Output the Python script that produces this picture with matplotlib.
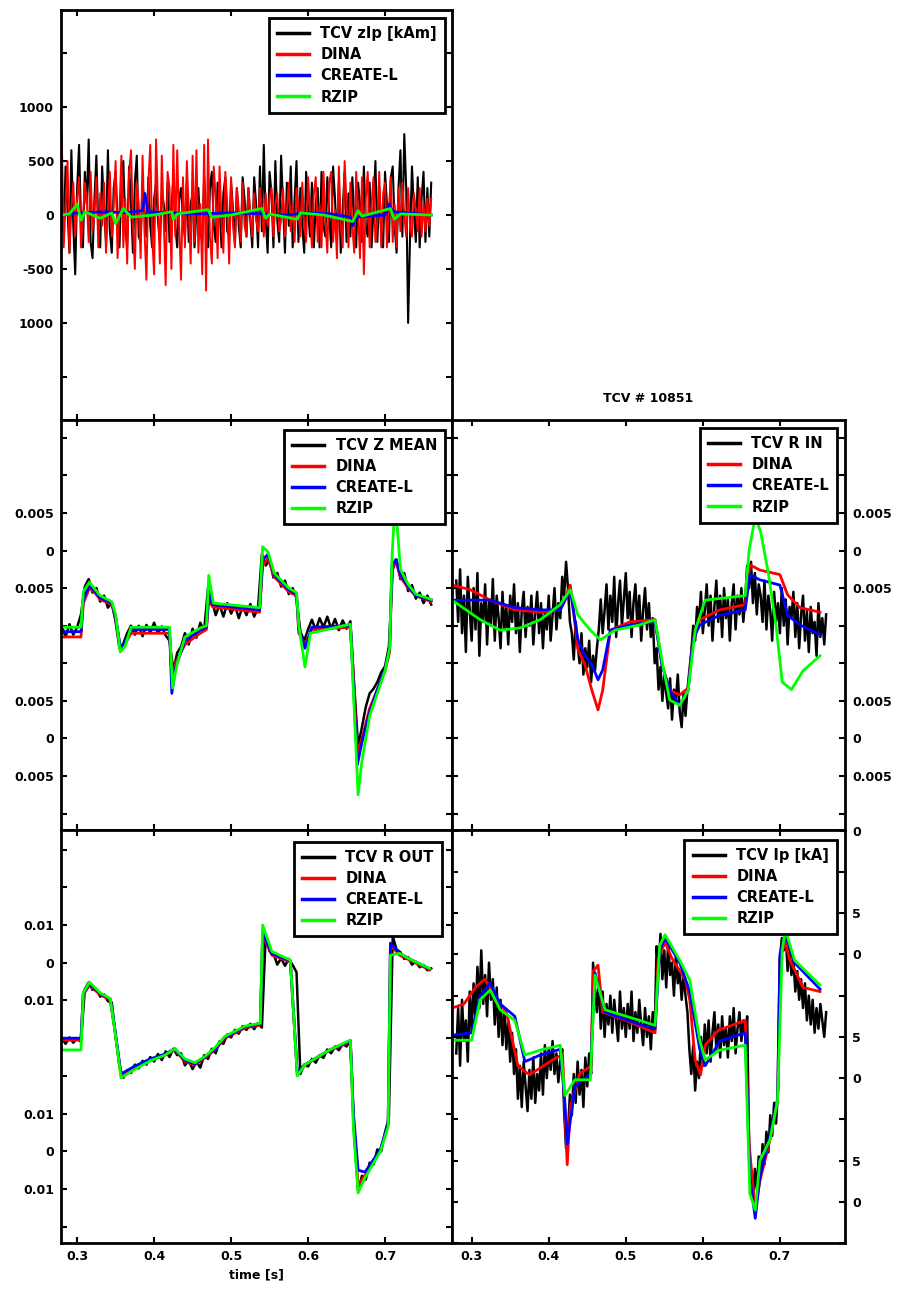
import numpy as np
import matplotlib
matplotlib.use("Agg")
import matplotlib.pyplot as plt
from matplotlib.ticker import FixedLocator, FixedFormatter

# measured TCV signals: 5 ms and 2.5 ms sampling
t_tcv = np.linspace(0.28, 0.76, 97)
t_tcv_fast = np.linspace(0.28, 0.76, 193)

# --- zIp [kAm] ---
tcv_zip = [300, -150, 450, 50, -350, 600, -100, -550, 250, 650,
           -50, -300, 400, 100, 700, -250, -400, 150, 550, -100,
           -300, 450, 50, -250, 600, -150, -350, 250, 400, -50,
           -300, 350, 500, -100, -300, 450, 100, -350, 300, 550,
           -200, -250, 300, 50, -200, 350, -100, -300, 150, 300,
           -50, -250, 200, 100, -150, 300, -250, 50, 350, -100,
           -300, 150, 250, -50, -200, 300, -250, 100, 200, -300,
           50, 250, -150, -250, 350, 0, -300, 250, 400, -100,
           -250, 300, 100, -300, 200, 350, -150, -200, 300, 50,
           -250, 250, -100, -300, 350, 150, -200, 250, -50, -300,
           350, 100, -300, 450, -150, 650, -50, -350, 400, 200,
           -300, 500, -50, -250, 550, 100, -350, 300, -100, 450,
           -300, 150, 500, -250, 250, -100, -350, 400, 50, -200,
           300, -300, 100, 250, -300, 400, -100, -200, 350, 0,
           -300, 450, 150, -250, 300, -350, 50, 400, -250, 200,
           -200, 350, -50, -300, 300, 100, -250, 450, -100, -200,
           300, -300, 50, 500, -250, 250, -150, -300, 400, 100,
           -250, 350, 450, -100, -350, 250, 600, -200, 750, 250,
           -1000, -200, 450, 50, -250, 350, -300, 150, 400, -250,
           250, -200, 300]
dina_zip = [750, -300, 100, 500, -350, 50, 300, -200, 150, 350,
            -300, -50, 300, 150, -250, 400, -150, 0, 350, -300,
            200, -100, 300, -350, 50, 400, -200, 100, 500, -400,
            50, 550, -300, 150, -450, 400, 600, -100, -500, 300,
            100, -400, 550, -150, -600, 300, 650, -200, -550, 700,
            100, -450, 550, -50, -650, 400, 250, -500, 650, -200,
            600, -100, -600, 350, -300, 500, 50, -450, 550, -250,
            600, -350, 100, -550, 650, -700, 700, -200, -450, 450,
            150, -400, 450, -50, -350, 400, 100, -450, 350, -100,
            -300, 250, 50, -250, 300, -100, -200, 250, 0, -200,
            200, -50, -150, 250, 50, -200, 200, -100, 150, 250,
            -200, 100, 200, -150, -50, 250, -200, 50, 300, -150,
            100, -250, 250, 50, -200, 300, -100, -250, 350, 50,
            -300, 200, 350, -250, 100, -300, 400, -50, -350, 300,
            400, -250, 50, -400, 450, -100, -300, 500, 100, -300,
            300, -100, -350, 400, 50, -400, 350, -550, 150, 400,
            -300, 100, 350, -250, -50, 400, -300, 200, 300, -300,
            50, 350, -250, 100, -300, 250, -150, 300, 0, -200,
            250, -100, -200, 200, 50, -150, 250, -200, 100, -150,
            150, -100, 150]
create_zip_t = [0.279, 0.30, 0.34, 0.36, 0.385, 0.388, 0.392, 0.42, 0.46, 0.50,
                0.54, 0.57, 0.60, 0.63, 0.655, 0.658, 0.662, 0.70, 0.705, 0.71,
                0.73, 0.76]
create_zip = [0, 20, 30, 20, 40, 200, 30, 20, 10, 20,
              10, 0, 20, 10, -20, -100, -20, 0, 100, 30,
              20, 0]
rzip_zip_t = [0.279, 0.29, 0.30, 0.305, 0.31, 0.33, 0.345, 0.35, 0.36, 0.37,
              0.40, 0.423, 0.425, 0.43, 0.47, 0.475, 0.50, 0.54, 0.545, 0.55,
              0.586, 0.59, 0.62, 0.658, 0.665, 0.67, 0.707, 0.712, 0.72, 0.76]
rzip_zip = [0, 10, 100, -50, 30, -30, 20, -80, 60, -20,
            0, 30, -40, 10, 50, -20, 0, 60, -30, 10,
            -40, 20, 0, -60, 40, -10, 60, -40, 10, 0]

# --- Z mean [mm] ---
tcv_zmean = [-10.0, -11.5, -9.8, -11.2, -10.2, -8.5, -4.8, -3.8, -5.6, -5.0,
             -6.8, -6.0, -7.6, -6.9, -9.5, -13.0, -12.4, -11.0, -10.0, -11.2,
             -10.0, -11.4, -9.9, -10.9, -9.6, -11.0, -10.1, -11.3, -12.0, -16.0,
             -13.6, -12.8, -11.0, -12.5, -10.4, -11.6, -9.6, -10.7, -5.0, -6.6,
             -8.6, -7.2, -8.8, -7.0, -8.4, -7.3, -9.0, -7.4, -8.6, -7.1,
             -8.8, -7.6, -0.5, -2.0, -1.2, -3.6, -3.0, -4.8, -4.0, -5.8,
             -5.0, -6.4, -10.8, -12.0, -10.5, -9.2, -10.6, -9.0, -10.2, -8.8,
             -10.4, -9.1, -10.6, -9.3, -10.4, -9.4, -18.0, -26.0, -23.5, -20.8,
             -19.0, -18.4, -17.5, -16.2, -15.4, -12.8, -2.5, -1.2, -3.8, -3.0,
             -5.4, -4.6, -6.4, -5.6, -7.0, -6.0, -7.2]
dina_zmean_t = [0.279, 0.305, 0.308, 0.316, 0.322, 0.33, 0.345, 0.35, 0.356, 0.362,
                0.37, 0.42, 0.423, 0.428, 0.44, 0.46, 0.468, 0.471, 0.476, 0.537,
                0.541, 0.548, 0.556, 0.575, 0.585, 0.588, 0.596, 0.605, 0.655, 0.659,
                0.664, 0.67, 0.68, 0.69, 0.70, 0.706, 0.709, 0.714, 0.72, 0.73,
                0.74, 0.76]
dina_zmean = [-11.5, -11.5, -7.0, -5.0, -5.5, -6.5, -7.2, -9.0, -13.0, -12.5,
              -11.0, -11.0, -16.5, -15.0, -12.5, -11.0, -10.5, -6.5, -7.5, -8.2,
              -2.0, -1.0, -3.5, -5.5, -6.0, -11.0, -12.5, -10.5, -10.2, -17.0,
              -27.0, -25.0, -21.0, -18.5, -16.0, -13.5, -2.5, -1.5, -3.5, -5.0,
              -6.0, -6.8]
create_zmean_t = dina_zmean_t
create_zmean = [-10.8, -10.8, -6.5, -4.6, -5.3, -6.3, -7.0, -8.8, -12.8, -12.3,
                -10.5, -10.5, -19.0, -15.5, -12.0, -10.6, -10.2, -5.8, -7.2, -7.9,
                -1.2, -0.5, -3.2, -5.2, -5.8, -10.5, -13.0, -10.2, -10.0, -18.0,
                -28.5, -25.5, -21.5, -18.5, -15.8, -13.0, -2.0, -1.2, -3.2, -4.8,
                -6.0, -6.6]
rzip_zmean_t = [0.279, 0.305, 0.308, 0.316, 0.322, 0.33, 0.345, 0.35, 0.356, 0.362,
                0.37, 0.42, 0.424, 0.43, 0.44, 0.46, 0.468, 0.471, 0.477, 0.537,
                0.541, 0.548, 0.556, 0.575, 0.585, 0.588, 0.596, 0.603, 0.655, 0.659,
                0.665, 0.67, 0.68, 0.69, 0.70, 0.706, 0.709, 0.712, 0.716, 0.72,
                0.73, 0.74, 0.76]
rzip_zmean = [-10.2, -10.2, -5.5, -4.2, -5.0, -6.0, -6.8, -8.5, -13.5, -12.8,
              -10.2, -10.2, -18.3, -15.0, -11.5, -10.3, -10.0, -3.3, -7.0, -7.6,
              0.5, -0.2, -3.0, -5.0, -5.6, -10.0, -15.5, -11.0, -9.8, -19.0,
              -32.5, -28.0, -22.0, -19.0, -16.0, -13.0, -1.0, 4.5, 3.0, -2.5,
              -4.5, -5.8, -6.5]

# --- R in [mm] ---
tcv_rin = [-4.0, -9.5, -2.5, -11.0, -6.0, -13.5, -3.5, -8.0, -12.0, -5.0,
           -10.5, -3.0, -14.0, -7.0, -9.5, -4.5, -12.5, -6.5, -10.0, -3.8,
           -12.0, -6.0, -9.0, -13.0, -5.5, -10.5, -7.5, -12.5, -6.0, -9.5,
           -4.5, -11.0, -7.0, -13.5, -8.0, -5.5, -11.5, -7.5, -10.0, -6.0,
           -12.5, -8.5, -5.5, -11.0, -7.0, -13.0, -8.0, -10.5, -6.0, -12.0,
           -8.5, -5.0, -10.5, -7.0, -9.0, -3.5, -6.0, -1.5, -5.0, -9.5,
           -11.0, -14.5, -9.5, -12.5, -15.0, -11.0, -16.5, -13.0, -15.5, -12.0,
           -17.5, -14.0, -16.0, -13.0, -10.5, -6.5, -11.0, -8.0, -4.5, -10.5,
           -6.0, -9.5, -3.5, -11.5, -7.0, -4.0, -10.0, -6.5, -3.0, -9.0,
           -5.5, -11.5, -7.0, -4.5, -10.0, -6.0, -12.0, -8.0, -5.0, -10.5,
           -7.0, -11.5, -9.0, -15.0, -13.0, -18.5, -15.5, -20.0, -16.5, -19.0,
           -21.0, -17.0, -22.5, -18.5, -20.0, -16.5, -21.5, -23.5, -19.0, -22.0,
           -18.5, -16.0, -13.5, -10.0, -12.0, -7.5, -9.5, -5.5, -11.0, -8.0,
           -4.5, -10.0, -6.0, -12.0, -7.5, -4.0, -9.5, -6.0, -11.5, -5.0,
           -9.0, -6.5, -12.0, -7.0, -4.5, -10.5, -6.0, -8.5, -5.0, -9.5,
           -6.5, -2.0, -5.0, -1.5, -7.0, -3.0, -8.5, -4.5, -6.0, -9.5,
           -4.0, -10.5, -6.0, -8.0, -12.0, -5.5, -9.5, -7.0, -11.0, -5.0,
           -10.0, -6.5, -12.5, -7.5, -9.0, -5.5, -11.5, -7.0, -13.0, -8.5,
           -6.0, -12.0, -8.0, -13.5, -7.5, -11.0, -9.5, -14.0, -7.0, -11.5,
           -9.0, -12.5, -8.5]
dina_rin_t = [0.2746, 0.298, 0.324, 0.356, 0.389, 0.415, 0.428, 0.438, 0.447, 0.456,
              0.464, 0.470, 0.480, 0.505, 0.538, 0.547, 0.557, 0.570, 0.581, 0.587,
              0.596, 0.622, 0.655, 0.661, 0.674, 0.700, 0.710, 0.726, 0.752]
dina_rin = [-4.6, -5.2, -6.6, -7.9, -8.2, -7.9, -4.6, -13.2, -15.2, -18.6,
            -21.2, -18.6, -10.6, -9.5, -9.2, -15.2, -18.6, -19.2, -18.3, -11.9,
            -9.2, -7.9, -7.2, -1.9, -2.6, -3.2, -5.9, -7.6, -8.2]
create_rin_t = dina_rin_t
create_rin = [-6.6, -6.6, -6.6, -7.6, -7.9, -7.9, -5.2, -11.9, -14.0, -15.2,
              -17.2, -15.9, -10.6, -9.9, -9.5, -15.2, -18.6, -20.6, -18.6, -11.9,
              -9.9, -8.6, -7.9, -3.2, -3.9, -4.6, -8.6, -9.9, -11.2]
rzip_rin_t = [0.2746, 0.311, 0.337, 0.363, 0.389, 0.415, 0.428, 0.438, 0.454, 0.467,
              0.486, 0.518, 0.538, 0.548, 0.557, 0.570, 0.581, 0.590, 0.603, 0.655,
              0.660, 0.668, 0.675, 0.685, 0.695, 0.703, 0.715, 0.730, 0.752]
rzip_rin = [-6.6, -9.2, -10.6, -10.3, -9.2, -7.2, -5.2, -8.6, -10.6, -11.9,
            -10.6, -9.9, -9.2, -15.2, -19.9, -20.6, -18.6, -10.6, -6.6, -6.0,
            0.0, 4.5, 2.5, -3.0, -10.0, -17.5, -18.5, -16.0, -14.0]

# --- R out [mm] ---
tcv_rout = [-20.0, -21.5, -19.8, -21.2, -20.0, -21.0, -7.0, -5.2, -7.2, -7.0,
            -9.0, -8.4, -10.2, -10.5, -19.5, -27.5, -30.5, -28.5, -29.2, -27.0,
            -28.0, -26.0, -27.0, -25.0, -26.2, -24.2, -25.8, -23.5, -25.0, -22.8,
            -24.5, -24.0, -27.2, -26.0, -28.2, -26.2, -27.8, -24.5, -25.5, -22.8,
            -24.0, -20.8, -21.5, -19.0, -19.8, -17.8, -18.8, -16.8, -17.8, -16.2,
            -17.6, -16.0, -17.2, 7.5, 3.0, 2.5, -0.5, 1.2, -0.8, 1.0,
            -0.6, -2.5, -29.5, -27.0, -27.5, -25.5, -26.5, -24.5, -25.2, -23.0,
            -24.0, -22.2, -23.2, -21.5, -22.2, -20.6, -46.0, -60.5, -56.5, -57.5,
            -53.0, -53.5, -49.5, -50.0, -45.0, -41.0, 7.0, 3.5, 2.8, 1.0,
            1.5, -0.5, 0.3, -1.2, -0.6, -2.0, -1.5]
dina_rout_t = [0.279, 0.305, 0.308, 0.316, 0.330, 0.343, 0.349, 0.357, 0.373, 0.395,
               0.414, 0.427, 0.440, 0.453, 0.466, 0.479, 0.492, 0.518, 0.538, 0.541,
               0.553, 0.577, 0.586, 0.596, 0.629, 0.655, 0.659, 0.665, 0.674, 0.694,
               0.704, 0.707, 0.719, 0.732, 0.758]
dina_rout = [-20.5, -20.5, -8.5, -6.0, -8.5, -9.9, -17.9, -29.8, -28.0, -25.8,
             -24.5, -23.1, -26.2, -27.1, -25.2, -23.1, -20.0, -17.3, -16.5, 7.3,
             2.0, 0.2, -29.8, -27.1, -23.1, -21.0, -42.0, -59.0, -56.3, -49.7,
             -43.0, 4.7, 2.0, 0.7, -1.9]
create_rout_t = dina_rout_t
create_rout = [-20.0, -20.0, -8.0, -5.6, -8.2, -9.6, -17.5, -29.5, -27.6, -25.5,
               -24.2, -22.8, -25.9, -26.8, -25.0, -22.8, -19.8, -17.0, -16.2, 8.0,
               2.4, 0.5, -29.0, -27.0, -23.0, -20.8, -40.0, -55.0, -55.5, -49.5,
               -42.5, 5.2, 2.5, 1.0, -1.6]
rzip_rout_t = dina_rout_t
rzip_rout = [-23.1, -23.1, -8.0, -5.1, -8.0, -9.5, -18.0, -30.5, -28.5, -26.0,
             -24.5, -22.8, -25.5, -26.5, -24.8, -22.5, -19.5, -16.8, -16.0, 10.0,
             3.0, 0.7, -30.0, -27.0, -23.0, -20.5, -44.0, -61.0, -57.0, -50.0,
             -43.5, 2.0, 2.5, 1.0, -1.5]

# --- Ip [kA], offset ---
tcv_ip = [3.0, 8.5, 1.5, 9.5, 4.5, 7.0, 2.0, 10.5, 5.5, 11.5,
          7.0, 13.5, 8.5, 15.5, 9.0, 12.5, 7.5, 14.0, 9.5, 12.0,
          6.5, 11.0, 5.0, 9.5, 4.0, 8.5, 3.5, 7.0, 2.0, 5.5,
          0.5, 3.5, -2.5, 1.5, -3.5, 2.0, -1.0, -4.0, 1.0, -2.5,
          2.5, -3.0, 0.5, -1.5, 3.0, -2.0, 4.0, 0.0, 3.5, 1.0,
          4.5, 0.5, 3.0, -0.5, 2.0, 3.5, -4.0, -8.5, -6.5, -2.0,
          -4.5, 0.5, -3.0, 2.0, -2.0, 1.0, -3.5, 2.5, -1.0, 3.0,
          0.5, 14.0, 11.0, 8.0, 12.0, 6.0, 10.5, 5.0, 9.0, 6.5,
          10.0, 5.5, 9.5, 7.0, 4.5, 10.5, 6.0, 8.5, 5.0, 9.0,
          6.0, 10.5, 4.5, 8.0, 5.5, 9.5, 6.5, 4.0, 8.5, 5.0,
          7.5, 3.5, 8.0, 5.5, 16.0, 13.0, 17.5, 12.0, 15.5, 11.0,
          16.5, 12.5, 14.0, 10.0, 15.0, 11.5, 13.0, 9.5, 12.5, 10.0,
          8.0, 3.5, 0.5, 4.0, -1.5, 2.0, 0.0, 5.0, 1.5, 6.5,
          3.0, 7.0, 2.0, 5.5, 8.0, 3.5, 6.5, 2.5, 7.5, 4.0,
          6.0, 2.5, 7.5, 4.5, 8.5, 3.0, 6.0, 8.0, 4.5, 7.0,
          5.0, 7.5, -8.0, -12.5, -15.0, -11.0, -13.5, -9.5, -12.0, -8.0,
          -10.5, -6.5, -9.0, -4.5, -7.0, -3.0, -5.5, -1.5, 14.5, 17.0,
          15.5, 17.5, 13.0, 16.0, 12.5, 14.5, 10.5, 13.0, 9.5, 12.0,
          8.5, 11.5, 7.0, 10.0, 6.5, 9.5, 5.5, 8.5, 6.0, 9.0,
          7.0, 5.0, 8.0]
dina_ip_t = [0.2746, 0.29, 0.305, 0.317, 0.33, 0.345, 0.36, 0.375, 0.395, 0.41,
             0.418, 0.421, 0.424, 0.428, 0.44, 0.455, 0.458, 0.464, 0.47, 0.50,
             0.53, 0.538, 0.542, 0.551, 0.56, 0.577, 0.583, 0.59, 0.597, 0.603,
             0.62, 0.655, 0.66, 0.668, 0.674, 0.687, 0.697, 0.70, 0.707, 0.713,
             0.73, 0.752]
dina_ip = [8.5, 9.0, 11.0, 12.0, 10.0, 8.0, 1.5, 0.4, 1.6, 2.5,
           2.8, -4.0, -10.5, -3.5, 0.5, 1.5, 13.0, 13.7, 8.0, 7.0,
           5.8, 5.5, 14.5, 16.5, 14.5, 12.0, 9.5, 2.2, 0.4, 4.0,
           5.8, 7.0, -8.0, -16.0, -12.5, -7.5, -2.7, 14.5, 16.5, 14.3,
           11.0, 10.5]
create_ip_t = [0.2746, 0.30, 0.311, 0.324, 0.337, 0.356, 0.369, 0.389, 0.415, 0.421,
               0.424, 0.434, 0.454, 0.46, 0.473, 0.518, 0.538, 0.544, 0.551, 0.57,
               0.583, 0.596, 0.603, 0.622, 0.655, 0.661, 0.668, 0.674, 0.687, 0.697,
               0.70, 0.707, 0.719, 0.752]
create_ip = [5.2, 5.5, 10.0, 11.5, 9.0, 7.5, 2.0, 2.8, 3.5, -3.0,
             -8.0, -1.0, 0.5, 12.8, 8.0, 6.5, 6.0, 15.5, 17.0, 14.0,
             10.5, 3.5, 1.5, 4.5, 5.5, -12.0, -17.0, -12.0, -7.0, -2.5,
             15.0, 17.5, 14.0, 10.8]
rzip_ip_t = [0.2746, 0.30, 0.311, 0.324, 0.337, 0.356, 0.369, 0.389, 0.415, 0.421,
             0.434, 0.454, 0.46, 0.473, 0.518, 0.538, 0.544, 0.551, 0.57, 0.583,
             0.596, 0.603, 0.622, 0.655, 0.661, 0.668, 0.674, 0.687, 0.697, 0.703,
             0.707, 0.719, 0.752]
rzip_ip = [4.6, 4.6, 9.5, 10.7, 8.3, 7.0, 2.8, 3.4, 4.0, -2.1,
           -0.2, -0.2, 12.5, 8.3, 7.0, 6.4, 16.1, 17.4, 14.3, 11.9,
           4.6, 2.2, 3.4, 4.0, -14.0, -16.0, -10.0, -7.5, -2.7, 15.5,
           18.0, 14.3, 11.3]

x_ticks = [0.3, 0.4, 0.5, 0.6, 0.7]
x_labels = ["0.3", "0.4", "0.5", "0.6", "0.7"]
model_names = ["DINA", "CREATE-L", "RZIP"]
model_colors = ["#ff0000", "#0000ff", "#00ff00"]


def draw_panel(ax, t_meas, measured, measured_name, models, scale=1.0):
    # measured trace first, model traces on top of it
    ax.plot(t_meas, np.array(measured) * scale, color="black", lw=1.8,
            label=measured_name)
    for (t, y), name, c in zip(models, model_names, model_colors):
        ax.plot(t, np.array(y) * scale, color=c, lw=2.0, label=name)


def style_axes(ax, xlim, ylim, yticks, ylabels, right=False, bottom=False,
               legend_anchor=(0.98, 0.98)):
    ax.set_xlim(*xlim)
    ax.set_ylim(*ylim)
    ax.xaxis.set_major_locator(FixedLocator(x_ticks))
    ax.xaxis.set_major_formatter(FixedFormatter(x_labels))
    ax.yaxis.set_major_locator(FixedLocator(yticks))
    ax.yaxis.set_major_formatter(FixedFormatter(ylabels))
    ax.tick_params(direction="in", length=4, width=1.5, labelsize=9,
                   top=True, bottom=True, left=True, right=True,
                   labelbottom=bottom, labelleft=not right, labelright=right,
                   pad=5)
    for lab in ax.get_xticklabels() + ax.get_yticklabels():
        lab.set_fontweight("bold")
    for s in ax.spines.values():
        s.set_linewidth(2)
    leg = ax.legend(loc="upper right", bbox_to_anchor=legend_anchor,
                    borderaxespad=0, prop={"size": 10.5, "weight": "bold"},
                    handlelength=2.2, handletextpad=0.8, labelspacing=0.42,
                    borderpad=0.55, fancybox=False, framealpha=1,
                    edgecolor="black")
    leg.get_frame().set_linewidth(2)
    for line in leg.get_lines():
        line.set_linewidth(2.5)


fig = plt.figure(figsize=(9.06, 12.94), dpi=100)
ax_zip = fig.add_axes([0.0673, 0.6754, 0.4316, 0.3169])
ax_zmean = fig.add_axes([0.0673, 0.3586, 0.4316, 0.3169])
ax_rin = fig.add_axes([0.4989, 0.3586, 0.4338, 0.3169])
ax_rout = fig.add_axes([0.0673, 0.0394, 0.4316, 0.3192])
ax_ip = fig.add_axes([0.4989, 0.0394, 0.4338, 0.3192])

left_xlim = (0.279, 0.787)
right_xlim = (0.2745, 0.7845)

# zIp: both the measurement and DINA are noisy here
ax_zip.plot(t_tcv_fast, tcv_zip, color="black", lw=1.5, label="TCV zIp [kAm]")
ax_zip.plot(t_tcv_fast, dina_zip, color="#ff0000", lw=1.4, label="DINA")
ax_zip.plot(create_zip_t, create_zip, color="#0000ff", lw=2.0, label="CREATE-L")
ax_zip.plot(rzip_zip_t, rzip_zip, color="#00ff00", lw=2.0, label="RZIP")
style_axes(ax_zip, left_xlim, (-1900, 1900),
           [1500, 1000, 500, 0, -500, -1000, -1500],
           ["", "1000", "500", "0", "-500", "1000", ""],
           legend_anchor=(0.982, 0.98))

mid_ticks = [0.015, 0.01, 0.005, 0, -0.005, -0.01, -0.015, -0.02, -0.025,
             -0.03, -0.035]
mid_labels = ["", "", "0.005", "0", "0.005", "", "", "0.005", "0", "0.005", ""]
mid_ylim = (-0.03718, 0.01738)

draw_panel(ax_zmean, t_tcv, tcv_zmean, "TCV Z MEAN",
           [(dina_zmean_t, dina_zmean), (create_zmean_t, create_zmean),
            (rzip_zmean_t, rzip_zmean)], scale=1e-3)
style_axes(ax_zmean, left_xlim, mid_ylim, mid_ticks, mid_labels,
           legend_anchor=(0.982, 0.976))

draw_panel(ax_rin, t_tcv_fast, tcv_rin, "TCV R IN",
           [(dina_rin_t, dina_rin), (create_rin_t, create_rin),
            (rzip_rin_t, rzip_rin)], scale=1e-3)
style_axes(ax_rin, right_xlim, mid_ylim, mid_ticks, mid_labels, right=True,
           legend_anchor=(0.98, 0.98))

draw_panel(ax_rout, t_tcv, tcv_rout, "TCV R OUT",
           [(dina_rout_t, dina_rout), (create_rout_t, create_rout),
            (rzip_rout_t, rzip_rout)], scale=1e-3)
style_axes(ax_rout, left_xlim, (-0.0743, 0.0352),
           [0.03, 0.02, 0.01, 0, -0.01, -0.02, -0.03, -0.04, -0.05, -0.06, -0.07],
           ["", "", "0.01", "0", "0.01", "", "", "0.01", "0", "0.01", ""],
           bottom=True, legend_anchor=(0.974, 0.971))
ax_rout.set_xlabel("time [s]", fontsize=9, fontweight="bold", labelpad=4)

draw_panel(ax_ip, t_tcv_fast, tcv_ip, "TCV Ip [kA]",
           [(dina_ip_t, dina_ip), (create_ip_t, create_ip),
            (rzip_ip_t, rzip_ip)])
style_axes(ax_ip, right_xlim, (-20.0, 30.1),
           [30, 25, 20, 15, 10, 5, 0, -5, -10, -15, -20],
           ["0", "", "5", "0", "", "5", "0", "", "5", "0", ""],
           right=True, bottom=True, legend_anchor=(0.98, 0.976))

fig.text(0.715, 0.6924, "TCV # 10851", ha="center", va="center",
         fontsize=9, fontweight="bold")

fig.savefig("out.png", dpi=100)
